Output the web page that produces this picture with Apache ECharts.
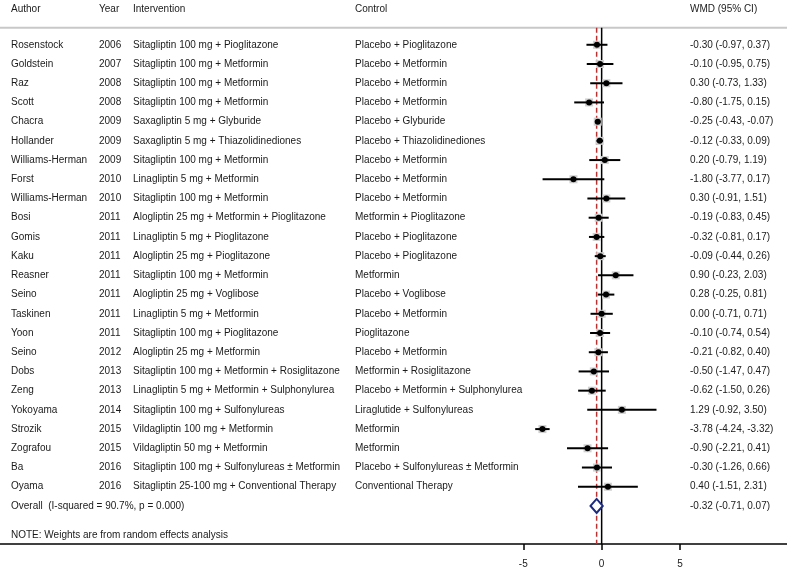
<!DOCTYPE html>
<html>
<head>
<meta charset="utf-8">
<script src="https://cdn.jsdelivr.net/npm/echarts@6/dist/echarts.min.js"></script>
<style>
  html, body { margin: 0; padding: 0; background: #fff; }
  #chart { width: 787px; height: 569px; }
</style>
</head>
<body>
<div id="chart"></div>
<script>
const headers = ["Author", "Year", "Intervention", "Control", "WMD (95% CI)"];
const authors = ["Rosenstock", "Goldstein", "Raz", "Scott", "Chacra", "Hollander", "Williams-Herman", "Forst",
  "Williams-Herman", "Bosi", "Gomis", "Kaku", "Reasner", "Seino", "Taskinen", "Yoon", "Seino", "Dobs",
  "Zeng", "Yokoyama", "Strozik", "Zografou", "Ba", "Oyama"];
const years = [2006, 2007, 2008, 2008, 2009, 2009, 2009, 2010, 2010, 2011, 2011, 2011, 2011, 2011, 2011,
  2011, 2012, 2013, 2013, 2014, 2015, 2015, 2016, 2016];
const interventions = [
  "Sitagliptin 100 mg + Pioglitazone", "Sitagliptin 100 mg + Metformin", "Sitagliptin 100 mg + Metformin",
  "Sitagliptin 100 mg + Metformin", "Saxagliptin 5 mg + Glyburide", "Saxagliptin 5 mg + Thiazolidinediones",
  "Sitagliptin 100 mg + Metformin", "Linagliptin 5 mg + Metformin", "Sitagliptin 100 mg + Metformin",
  "Alogliptin 25 mg + Metformin + Pioglitazone", "Linagliptin 5 mg + Pioglitazone", "Alogliptin 25 mg + Pioglitazone",
  "Sitagliptin 100 mg + Metformin", "Alogliptin 25 mg + Voglibose", "Linagliptin 5 mg + Metformin",
  "Sitagliptin 100 mg + Pioglitazone", "Alogliptin 25 mg + Metformin", "Sitagliptin 100 mg + Metformin + Rosiglitazone",
  "Linagliptin 5 mg + Metformin + Sulphonylurea", "Sitagliptin 100 mg + Sulfonylureas", "Vildagliptin 100 mg + Metformin",
  "Vildagliptin 50 mg + Metformin", "Sitagliptin 100 mg + Sulfonylureas ± Metformin", "Sitagliptin 25-100 mg + Conventional Therapy"];
const controls = [
  "Placebo + Pioglitazone", "Placebo + Metformin", "Placebo + Metformin", "Placebo + Metformin",
  "Placebo + Glyburide", "Placebo + Thiazolidinediones", "Placebo + Metformin", "Placebo + Metformin",
  "Placebo + Metformin", "Metformin + Pioglitazone", "Placebo + Pioglitazone", "Placebo + Pioglitazone",
  "Metformin", "Placebo + Voglibose", "Placebo + Metformin", "Pioglitazone", "Placebo + Metformin",
  "Metformin + Rosiglitazone", "Placebo + Metformin + Sulphonylurea", "Liraglutide + Sulfonylureas",
  "Metformin", "Metformin", "Placebo + Sulfonylureas ± Metformin", "Conventional Therapy"];
const wmd = [-0.30, -0.10, 0.30, -0.80, -0.25, -0.12, 0.20, -1.80, 0.30, -0.19, -0.32, -0.09, 0.90, 0.28,
  0.00, -0.10, -0.21, -0.50, -0.62, 1.29, -3.78, -0.90, -0.30, 0.40];
const lower = [-0.97, -0.95, -0.73, -1.75, -0.43, -0.33, -0.79, -3.77, -0.91, -0.83, -0.81, -0.44, -0.23, -0.25,
  -0.71, -0.74, -0.82, -1.47, -1.50, -0.92, -4.24, -2.21, -1.26, -1.51];
const upper = [0.37, 0.75, 1.33, 0.15, -0.07, 0.09, 1.19, 0.17, 1.51, 0.45, 0.17, 0.26, 2.03, 0.81,
  0.71, 0.54, 0.40, 0.47, 0.26, 3.50, -3.32, 0.41, 0.66, 2.31];
const overallEst = [-0.32, -0.71, 0.07];
const overallLabel = "Overall  (I-squared = 90.7%, p = 0.000)";
const noteText = "NOTE: Weights are from random effects analysis";
const xTicks = [-5, 0, 5];

const colX = [11, 99, 133, 355, 690];
const font = { fontSize: 10, fontFamily: "Liberation Sans, Arial, sans-serif" };
const textColor = "#1a1a1a";
const ruleRow = 0.12;
const bottomRow = 26.98;

function fmt(v) { return v.toFixed(2); }
function ciText(m, l, u) { return fmt(m) + " (" + fmt(l) + ", " + fmt(u) + ")"; }

function txt(t, x, y) {
  return { type: "text", style: Object.assign({ text: t, x: x, y: y, verticalAlign: "middle", align: "left", fill: textColor }, font) };
}

const chart = echarts.init(document.getElementById("chart"));

const option = {
  animation: false,
  grid: { left: 0, right: 0, top: 0, bottom: 25 },
  xAxis: {
    type: "value",
    min: -38.40,
    max: 11.83,
    splitLine: { show: false },
    axisLine: { show: true, onZero: false, lineStyle: { color: "#000", width: 1.5 } },
    axisTick: { show: true, customValues: xTicks, length: 6, lineStyle: { color: "#000", width: 1.5 } },
    axisLabel: { customValues: xTicks, margin: 15, color: textColor, fontSize: 10, fontFamily: font.fontFamily }
  },
  yAxis: { type: "value", inverse: true, min: -1.33, max: bottomRow, show: false },
  series: [
    {
      // reference lines: header rule, null line, overall estimate
      type: "custom",
      z: 1,
      data: [[0]],
      encode: { x: 0 },
      renderItem: function (params, api) {
        const cs = params.coordSys;
        const top = api.coord([0, ruleRow])[1];
        const z0 = api.coord([0, bottomRow]);
        const ov = api.coord([overallEst[0], bottomRow]);
        return {
          type: "group",
          children: [
            { type: "line", shape: { x1: cs.x, y1: top, x2: cs.x + cs.width, y2: top }, style: { stroke: "#c8c8c8", lineWidth: 2 } },
            { type: "line", shape: { x1: z0[0], y1: top, x2: z0[0], y2: z0[1] }, style: { stroke: "#000", lineWidth: 1.5 } },
            { type: "line", shape: { x1: ov[0], y1: top, x2: ov[0], y2: ov[1] }, style: { stroke: "#b83232", lineWidth: 1.5, lineDash: [5, 3] } }
          ]
        };
      }
    },
    {
      // header row and note
      type: "custom",
      z: 2,
      data: [[-1]],
      encode: { y: 0 },
      renderItem: function (params, api) {
        const y = api.coord([0, -0.85])[1];
        const yn = api.coord([0, 26.5])[1];
        const ch = headers.map(function (h, k) { return txt(h, colX[k], y); });
        ch.push(txt(noteText, colX[0], yn));
        return { type: "group", children: ch };
      }
    },
    {
      // studies
      type: "custom",
      z: 3,
      data: wmd.map(function (v, i) { return [i + 1, v, lower[i], upper[i]]; }),
      encode: { y: 0, x: [1, 2, 3] },
      renderItem: function (params, api) {
        const i = params.dataIndex;
        const row = api.value(0);
        const c = api.coord([api.value(1), row]);
        const lo = api.coord([api.value(2), row]);
        const hi = api.coord([api.value(3), row]);
        const y = c[1];
        const texts = [authors[i], String(years[i]), interventions[i], controls[i], ciText(wmd[i], lower[i], upper[i])];
        const ch = texts.map(function (t, k) { return txt(t, colX[k], y); });
        ch.push({ type: "rect", shape: { x: c[0] - 4, y: y - 4, width: 8, height: 8 }, style: { fill: "#cfcfcf" } });
        ch.push({ type: "line", shape: { x1: lo[0], y1: y, x2: hi[0], y2: y }, style: { stroke: "#000", lineWidth: 2 } });
        ch.push({ type: "circle", shape: { cx: c[0], cy: y, r: 3 }, style: { fill: "#000" } });
        return { type: "group", children: ch };
      }
    },
    {
      // overall
      type: "custom",
      z: 4,
      data: [[authors.length + 1, overallEst[0], overallEst[1], overallEst[2]]],
      encode: { y: 0, x: [1, 2, 3] },
      renderItem: function (params, api) {
        const row = api.value(0);
        const c = api.coord([api.value(1), row]);
        const lo = api.coord([api.value(2), row]);
        const hi = api.coord([api.value(3), row]);
        const y = c[1];
        const h = 7;
        return {
          type: "group",
          children: [
            txt(overallLabel, colX[0], y),
            txt(ciText(overallEst[0], overallEst[1], overallEst[2]), colX[4], y),
            {
              type: "polygon",
              shape: { points: [[lo[0], y], [c[0], y - h], [hi[0], y], [c[0], y + h]] },
              style: { fill: "#fff", stroke: "#1c2a80", lineWidth: 2 }
            }
          ]
        };
      }
    }
  ]
};

chart.setOption(option);
window.onresize = function () { chart.resize(); };
</script>
</body>
</html>
